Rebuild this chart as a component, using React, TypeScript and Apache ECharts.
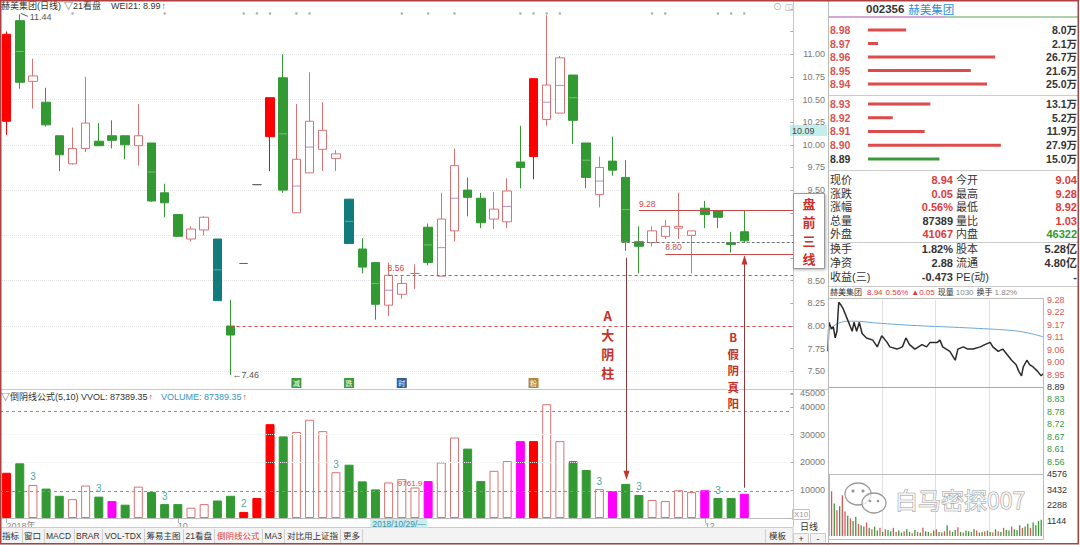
import React, { useEffect, useRef } from 'react';
import * as echarts from 'echarts';

// ---------------- DATA ----------------
const DATES = [
  '2018/09/11', '2018/09/12', '2018/09/13', '2018/09/14', '2018/09/17', '2018/09/18', '2018/09/19', '2018/09/20',
  '2018/09/21', '2018/09/25', '2018/09/26', '2018/09/27', '2018/09/28', '2018/10/08', '2018/10/09', '2018/10/10',
  '2018/10/11', '2018/10/12', '2018/10/15', '2018/10/16', '2018/10/17', '2018/10/18', '2018/10/19', '2018/10/22',
  '2018/10/23', '2018/10/24', '2018/10/25', '2018/10/26', '2018/10/29', '2018/10/30', '2018/10/31', '2018/11/01',
  '2018/11/02', '2018/11/05', '2018/11/06', '2018/11/07', '2018/11/08', '2018/11/09', '2018/11/12', '2018/11/13',
  '2018/11/14', '2018/11/15', '2018/11/16', '2018/11/19', '2018/11/20', '2018/11/21', '2018/11/22', '2018/11/23',
  '2018/11/26', '2018/11/27', '2018/11/28', '2018/11/29', '2018/11/30', '2018/12/03', '2018/12/04', '2018/12/05',
  '2018/12/06',
];
const OPEN = [
  10.26, 11.37, 10.70, 10.47, 10.10, 9.79, 9.96, 10.04, 10.10, 10.10, 9.99, 10.02, 9.47, 9.23, 8.96, 9.06,
  8.96, 8.00, 8.69, 9.56, 10.09, 10.74, 9.25, 9.69, 9.95, 9.85, 9.40, 8.85, 8.70, 8.23, 8.35, 8.58,
  9.09, 8.55, 9.05, 9.50, 9.41, 9.18, 9.15, 9.81, 9.87, 10.28, 10.35, 10.77, 10.02, 9.45, 9.82, 9.64,
  8.93, 8.92, 8.99, 9.08, 9.00, 9.30, 9.27, 8.92, 9.04,
];
const CLOSE = [
  11.22, 10.69, 10.76, 10.22, 9.89, 9.96, 10.24, 9.99, 10.05, 10.00, 10.10, 9.38, 9.36, 8.99, 9.07, 9.20,
  8.28, 7.90, 8.69, 9.56, 10.52, 9.50, 9.84, 10.26, 10.16, 9.90, 8.91, 8.65, 8.24, 8.56, 8.47, 8.58,
  8.70, 9.18, 9.77, 9.42, 9.14, 9.29, 9.49, 9.75, 10.73, 10.66, 10.96, 10.27, 9.64, 9.75, 9.72, 8.93,
  8.88, 9.05, 9.10, 9.10, 9.05, 9.23, 9.20, 8.90, 8.94,
];
const LOW = [
  10.11, 10.62, 10.40, 10.20, 9.71, 9.78, 9.92, 9.99, 9.96, 9.84, 9.77, 9.37, 9.20, 8.99, 8.93, 9.00,
  8.28, 7.46, 8.69, 9.56, 9.71, 9.47, 9.25, 9.69, 9.71, 9.71, 8.91, 8.58, 8.07, 8.11, 8.30, 8.41,
  8.67, 8.55, 8.93, 9.21, 9.08, 9.07, 9.08, 9.52, 9.62, 10.21, 10.35, 10.01, 9.52, 9.31, 9.66, 8.83,
  8.58, 8.88, 8.96, 8.96, 8.58, 9.08, 9.08, 8.81, 8.92,
];
const HIGH = [
  11.25, 11.44, 10.95, 10.63, 10.10, 10.19, 10.75, 10.24, 10.27, 10.10, 10.45, 10.02, 9.57, 9.23, 9.10, 9.21,
  8.96, 8.29, 8.69, 9.56, 10.52, 11.00, 10.45, 10.80, 10.47, 9.94, 9.40, 8.97, 8.70, 8.70, 8.55, 8.68,
  9.13, 9.47, 9.96, 9.64, 9.47, 9.48, 9.63, 10.21, 10.73, 11.43, 10.98, 10.77, 10.02, 9.87, 10.09, 9.83,
  9.10, 9.10, 9.17, 9.47, 9.05, 9.38, 9.27, 9.04, 9.28,
];
// daily volume (x10)
const VOLUME = [
  16300, 19700, 11900, 10600, 8000, 6800, 11700, 7700, 6100, 4800, 11300, 9400, 5000, 5000, 3700, 5000,
  6300, 8000, 2200, 7200, 33800, 29400, 31000, 35400, 31300, 16500, 19200, 13200, 10300, 12800, 14000, 11000,
  13300, 20000, 29000, 25000, 13300, 17000, 20500, 27700, 27700, 41000, 27700, 20500, 17300, 10400, 9700, 12300,
  8300, 6500, 6100, 10000, 9400, 10000, 7200, 7200, 8739,
];
const RED_FILLED_IDX = [0, 20, 40];
const TEAL_IDX = [16, 26];
const ONE_PRICE_IDX = [18, 19];
const MAGENTA_VOL_IDX = [8, 32, 39, 46, 53, 56];
const VOL_MARK_IDX = [2, 7, 12, 18, 25, 45, 48, 54];
const VOL_MARK_TEXT = ['3', '3', '3', '2', '3', '3', '3', '3'];
const SIGNAL_IDX = [5, 12, 18, 19, 20, 22, 23, 30, 32, 34, 39, 40, 41, 42, 49, 50, 54, 55, 56];
const SIGNAL_LEVEL = 11.45;
const PRICE_GRID = [7.5, 8.0, 8.5, 9.0, 9.5, 10.0, 10.5, 11.0];
const COVERED_PRICE_LABELS = [8.75, 9.0, 9.25]; // hidden behind the 盘前三线 box
const VOL_ALERT_HIGH = 38500;
const VOL_ALERT_LOW = 9762;
const X_LABELS: Record<string, string> = { '2018/09/11': '2018年', '2018/10/08': '10', '2018/12/03': '12' };
const CURSOR_IDX = 28;
const ICONS: [number, string, string][] = [[22, '#3a9a3a', '减'], [26, '#3a9a3a', '跌'], [30, '#2f5f9f', '时'], [40, '#b08a3a', '粉']];

const SELL_PRICES = ['8.98', '8.97', '8.96', '8.95', '8.94'];
const SELL_VOLS = [8.0, 2.1, 26.7, 21.6, 25.0];
const BUY_PRICES = ['8.93', '8.92', '8.91', '8.90', '8.89'];
const BUY_VOLS = [13.1, 5.2, 11.9, 27.9, 15.0];
const PREV_CLOSE = 8.89;

const STAT_ROWS: [string, string, string, string, string, string][] = [
  ['现价', '8.94', 'r', '今开', '9.04', 'r'],
  ['涨跌', '0.05', 'r', '最高', '9.28', 'r'],
  ['涨幅', '0.56%', 'r', '最低', '8.92', 'r'],
  ['总量', '87389', 'd', '量比', '1.03', 'r'],
  ['外盘', '41067', 'r', '内盘', '46322', 'g'],
  ['换手', '1.82%', 'd', '股本', '5.28亿', 'd'],
  ['净资', '2.88', 'd', '流通', '4.80亿', 'd'],
  ['收益(三)', '-0.473', 'd', 'PE(动)', '-', 'd'],
];

const INTRA_MIN = [0, 1, 4, 6, 8, 10, 12, 14, 17, 21, 23, 27, 29, 32, 35, 38, 43, 50, 55, 60, 66, 69, 77, 83, 87, 91, 97, 105, 110, 114,
  122, 125, 128, 136, 142, 145, 151, 156, 162, 170, 175, 181, 184, 190, 195, 201, 205, 210, 213, 216, 218, 222, 225, 229, 234, 238, 240];
const INTRA_PRICE = [9.05, 9.18, 9.15, 9.16, 9.11, 9.14, 9.27, 9.26, 9.24, 9.20, 9.18, 9.14, 9.18, 9.14, 9.18, 9.13, 9.11, 9.10, 9.07, 9.12,
  9.09, 9.07, 9.06, 9.07, 9.11, 9.08, 9.06, 9.08, 9.07, 9.09, 9.09, 9.10, 9.07, 9.05, 9.01, 9.06, 9.07, 9.06, 9.06, 9.07,
  9.08, 9.09, 9.07, 9.05, 9.06, 9.03, 9.01, 8.99, 8.96, 8.94, 8.98, 9.01, 8.99, 8.98, 8.96, 8.94, 8.95];
const AVG_MIN = [0, 5, 15, 25, 60, 100, 140, 180, 200, 220, 240];
const AVG_PRICE = [9.14, 9.16, 9.18, 9.185, 9.175, 9.165, 9.158, 9.15, 9.145, 9.135, 9.115];
const INTRA_VOL = [4576, 3300, 2400, 1900, 2200, 3000, 1800, 1500, 1300, 1100, 1400, 900, 800, 700, 1000, 600, 500, 700, 400, 600,
  300, 500, 450, 350, 600, 300, 400, 250, 350, 500, 300, 200, 450, 300, 250, 600, 350, 300, 200, 400,
  500, 300, 250, 350, 800, 400, 300, 450, 650, 300, 250, 400, 350, 300, 500, 400, 250, 300, 350, 400,
  300, 250, 500, 350, 300, 600, 450, 400, 700, 500, 450, 800, 600, 700, 900, 600, 1000, 800, 1100, 1200];
const INTRA_DIR = 'rrgrgrrgrggrggrgrggrgrggrrggrggrgrgrggrgrggrgrggrgrggrgrggrggrgrgrggrgggrggrggg'.split('');

// ---------------- STYLE ----------------
const FONT = "'Liberation Sans','Noto Sans CJK SC','DejaVu Sans',sans-serif";
const CJK = "'Noto Sans CJK SC','DejaVu Sans',sans-serif";
const RED = '#ff0000';
const GREEN = '#339933';
const HOLLOW = '#d97373';
const TEAL = '#127c7c';
const MAGENTA = '#ff00ff';
const TXT_RED = '#e03a3a';
const TXT_GREEN = '#2f9a2f';
const ANN_RED = '#c8302a';

const fontStr = (o: any) => `${o.weight ?? 'normal'} ${o.size ?? 9}px ${o.family ?? FONT}`;
const T = (x: number, y: number, text: string, o: any = {}) => ({
  type: 'text', x, y, z: o.z ?? 60, silent: true,
  style: {
    text, fill: o.color ?? '#333', font: fontStr(o),
    align: o.align ?? 'left', verticalAlign: o.v ?? 'middle',
    textAlign: o.align ?? 'left', textVerticalAlign: o.v ?? 'middle',
    stroke: o.stroke, lineWidth: o.lineWidth ?? 0,
    lineHeight: o.lineHeight,
  },
});
let measureCtx: CanvasRenderingContext2D | null = null;
const measure = (text: string, o: any) => {
  if (!measureCtx) measureCtx = document.createElement('canvas').getContext('2d');
  if (!measureCtx) return text.length * (o.size ?? 9) * 0.6;
  measureCtx.font = fontStr(o);
  return measureCtx.measureText(text).width;
};
// sequential texts: parts = [text, color, gapAfter]
const SEQ = (x: number, y: number, parts: [string, string, number][], o: any = {}) => {
  const out: any[] = [];
  let cx = x;
  parts.forEach(([t, c, gap]) => {
    out.push(T(cx, y, t, { ...o, color: c }));
    cx += measure(t, o) + gap;
  });
  return out;
};
const L = (x1: number, y1: number, x2: number, y2: number, color: string, w = 1, dash?: number[], z = 55) => ({
  type: 'line', z, silent: true, shape: { x1, y1, x2, y2 }, style: { stroke: color, lineWidth: w, lineDash: dash },
});
const R = (x: number, y: number, w: number, h: number, fill: string, stroke?: string, z = 50, extra: any = {}) => ({
  type: 'rect', z, silent: true, shape: { x, y, width: w, height: h },
  style: { fill, stroke, lineWidth: stroke ? 1 : 0, ...extra },
});

function buildOption() {
  const N_SLOTS = 60;
  const cats = [...DATES, ...Array.from({ length: N_SLOTS - DATES.length }, (_, k) => ' '.repeat(k + 1))];

  const candleData = DATES.map((_, i) => {
    const o = OPEN[i], c = CLOSE[i];
    let fill: string, border: string;
    if (RED_FILLED_IDX.includes(i)) { fill = RED; border = RED; }
    else if (TEAL_IDX.includes(i)) { fill = TEAL; border = TEAL; }
    else if (ONE_PRICE_IDX.includes(i)) { fill = '#666'; border = '#666'; }
    else if (c >= o) { fill = '#ffffff'; border = HOLLOW; }
    else { fill = GREEN; border = GREEN; }
    return {
      value: [o, c, LOW[i], HIGH[i]],
      itemStyle: { color: fill, color0: fill, borderColor: border, borderColor0: border, borderColorDoji: border },
    };
  });

  const midData = DATES.map((_, i) => {
    const o = OPEN[i], c = CLOSE[i];
    if (Math.abs(o - c) < 0.28 || RED_FILLED_IDX.includes(i)) return null;
    return { value: [i, (o + c) / 2], itemStyle: { color: c >= o ? '#a070b8' : 'rgba(255,255,255,0.45)' } };
  }).filter(Boolean);

  const volData = VOLUME.map((v, i) => {
    let fill: string, border: string;
    if (MAGENTA_VOL_IDX.includes(i)) { fill = MAGENTA; border = MAGENTA; }
    else if (RED_FILLED_IDX.includes(i) || ONE_PRICE_IDX.includes(i)) { fill = RED; border = RED; }
    else if (TEAL_IDX.includes(i)) { fill = GREEN; border = GREEN; }
    else if (CLOSE[i] >= OPEN[i]) { fill = '#ffffff'; border = HOLLOW; }
    else { fill = GREEN; border = GREEN; }
    const mk = VOL_MARK_IDX.indexOf(i);
    const item: any = { value: v, itemStyle: { color: fill, borderColor: border, borderWidth: 1 } };
    if (mk >= 0) item.label = { show: true, position: 'top', distance: 3, formatter: VOL_MARK_TEXT[mk], color: '#4fa9a9', fontSize: 10, fontFamily: FONT };
    return item;
  });

  const xLabelInterval = (_i: number, v: string) => X_LABELS[v] !== undefined;
  const catAxisLabelColor = (v: string) => (v === PREV_CLOSE.toFixed(2) ? '#333' : '#d9534f');
  const intraStep = 0.0557143; // (9.28 - 8.50) / 14, rounded up so the max tick is not duplicated

  const orderY = (grid: number, data: string[], pos: string, isPrice: boolean) => ({
    type: 'category', gridIndex: grid, inverse: true, data, position: pos,
    axisLine: { show: false }, axisTick: { show: false }, splitLine: { show: false },
    axisLabel: isPrice
      ? { interval: 0, align: 'left', margin: 38, color: catAxisLabelColor, fontWeight: 'bold', fontSize: 10.5, fontFamily: FONT }
      : { interval: 0, align: 'right', margin: 9, color: '#333', fontWeight: 'bold', fontSize: 10.5, fontFamily: FONT },
  });

  const priceLabel = (v: number) => {
    if (v < 7.49 || v > 11.01) return '';
    if (COVERED_PRICE_LABELS.some((c) => Math.abs(c - v) < 0.001)) return '';
    return v.toFixed(2);
  };

  return {
    animation: false,
    backgroundColor: '#ffffff',
    grid: [
      { left: -1.6, top: 8.9, width: 792, height: 385.05 },
      { left: -1.6, top: 393.1, width: 792, height: 124.9 },
      { left: 868, top: 23.25, width: 200, height: 67.5 },
      { left: 868, top: 97.1, width: 200, height: 68.75 },
      { left: 828, top: 300, width: 215, height: 174 },
      { left: 828, top: 474, width: 215, height: 62 },
    ],
    xAxis: [
      { type: 'category', gridIndex: 0, data: cats, axisLine: { show: false }, axisTick: { show: false }, axisLabel: { show: false } },
      {
        type: 'category', gridIndex: 1, data: cats,
        axisLine: { show: true, lineStyle: { color: '#bbbbbb' } },
        axisTick: { show: true, alignWithLabel: true, interval: xLabelInterval, length: 5, lineStyle: { color: '#aaaaaa' } },
        axisLabel: { show: true, interval: xLabelInterval, formatter: (v: string) => X_LABELS[v] ?? '', align: 'left', color: '#888', fontSize: 9, margin: 3, fontFamily: FONT },
      },
      { type: 'value', gridIndex: 2, min: 0, max: 42, show: false },
      { type: 'value', gridIndex: 3, min: 0, max: 42, show: false },
      { type: 'value', gridIndex: 4, min: 0, max: 240, interval: 60, axisLine: { show: false }, axisTick: { show: false }, axisLabel: { show: false }, splitLine: { show: true, lineStyle: { color: '#e0e0e0' } } },
      { type: 'value', gridIndex: 5, min: 0, max: 240, interval: 60, axisLine: { show: false }, axisTick: { show: false }, axisLabel: { show: false }, splitLine: { show: true, lineStyle: { color: '#e0e0e0' } } },
    ],
    yAxis: [
      {
        type: 'value', gridIndex: 0, position: 'right', min: 7.25, max: 11.5, interval: 0.25,
        axisLine: { show: false }, axisTick: { show: true, length: 3, lineStyle: { color: '#aaa' } }, splitLine: { show: false },
        axisLabel: { formatter: priceLabel, align: 'right', margin: 34.6, color: '#777', fontSize: 9, fontFamily: FONT },
      },
      {
        type: 'value', gridIndex: 1, position: 'right', min: 0, max: 45000, interval: 10000,
        axisLine: { show: false }, axisTick: { show: true, length: 3, lineStyle: { color: '#aaa' } }, splitLine: { show: false },
        axisLabel: { formatter: (v: number) => (v >= 10000 ? String(v) : ''), align: 'right', margin: 34.6, color: '#777', fontSize: 9, fontFamily: FONT },
      },
      orderY(2, SELL_PRICES, 'left', true),
      orderY(2, SELL_VOLS.map((v) => v.toFixed(1) + '万'), 'right', false),
      orderY(3, BUY_PRICES, 'left', true),
      orderY(3, BUY_VOLS.map((v) => v.toFixed(1) + '万'), 'right', false),
      {
        type: 'value', gridIndex: 4, position: 'right', min: 8.5, max: 9.28, interval: intraStep,
        axisLine: { show: false }, axisTick: { show: false }, splitLine: { show: false },
        axisLabel: {
          formatter: (v: number) => (v < 8.52 ? '' : v.toFixed(2)), margin: 4, fontSize: 9, fontFamily: FONT,
          color: (v: any) => { const d = parseFloat(v) - PREV_CLOSE; return Math.abs(d) < 0.005 ? '#333' : d > 0 ? '#d65a5a' : '#3a9a3a'; },
        },
      },
      {
        type: 'value', gridIndex: 5, position: 'right', min: 0, max: 4576, interval: 1144,
        axisLine: { show: false }, axisTick: { show: false }, splitLine: { show: false },
        axisLabel: { formatter: (v: number) => (v > 0 ? String(v) : ''), margin: 4, fontSize: 9, color: '#333', fontFamily: FONT },
      },
    ],
    series: [
      {
        type: 'candlestick', xAxisIndex: 0, yAxisIndex: 0, data: candleData, barWidth: 9, z: 3,
        itemStyle: { borderWidth: 1 },
        markLine: { silent: true, symbol: 'none', label: { show: false }, lineStyle: { color: '#e2e2e2', type: 'dotted', width: 1 }, data: PRICE_GRID.map((v) => ({ yAxis: v })), z: 1 },
      },
      { type: 'scatter', xAxisIndex: 0, yAxisIndex: 0, data: midData, symbol: 'rect', symbolSize: [8, 1], z: 4, silent: true },
      { type: 'scatter', xAxisIndex: 0, yAxisIndex: 0, data: SIGNAL_IDX.map((i) => [i, SIGNAL_LEVEL]), symbol: 'circle', symbolSize: 2.5, itemStyle: { color: '#999' }, silent: true },
      {
        type: 'bar', xAxisIndex: 1, yAxisIndex: 1, data: volData, barWidth: 9, z: 3,
        markLine: {
          silent: true, symbol: 'none', label: { show: false },
          data: [
            { yAxis: 30000, lineStyle: { color: '#eeeeee', type: 'dotted', width: 1 } },
            { yAxis: 20000, lineStyle: { color: '#eeeeee', type: 'dotted', width: 1 } },
            { yAxis: VOL_ALERT_HIGH, lineStyle: { color: '#e07070', type: [3, 3], width: 1 } },
            { yAxis: VOL_ALERT_LOW, lineStyle: { color: '#e07070', type: [3, 3], width: 1 } },
          ],
        },
      },
      {
        type: 'bar', xAxisIndex: 2, yAxisIndex: 2, barWidth: 3,
        data: SELL_VOLS.map((v, k) => ({ value: v, itemStyle: { color: SELL_PRICES[k] === PREV_CLOSE.toFixed(2) ? '#3a9a3a' : '#dd4b4b' } })),
      },
      {
        type: 'bar', xAxisIndex: 3, yAxisIndex: 4, barWidth: 3,
        data: BUY_VOLS.map((v, k) => ({ value: v, itemStyle: { color: BUY_PRICES[k] === PREV_CLOSE.toFixed(2) ? '#3a9a3a' : '#dd4b4b' } })),
      },
      {
        type: 'line', xAxisIndex: 4, yAxisIndex: 6, data: INTRA_MIN.map((m, k) => [m, INTRA_PRICE[k]]),
        symbol: 'none', lineStyle: { color: '#2a2a2a', width: 1.5 }, z: 5,
        markLine: { silent: true, symbol: 'none', label: { show: false }, lineStyle: { color: '#aaaaaa', type: 'solid', width: 1 }, data: [{ yAxis: PREV_CLOSE }] },
      },
      {
        type: 'line', xAxisIndex: 4, yAxisIndex: 6, data: AVG_MIN.map((m, k) => [m, AVG_PRICE[k]]),
        symbol: 'none', smooth: true, lineStyle: { color: '#6aa6d6', width: 1 }, z: 4,
      },
      {
        type: 'bar', xAxisIndex: 5, yAxisIndex: 7, barWidth: 1.3,
        data: INTRA_VOL.map((v, k) => ({ value: [k * 3 + 1, v], itemStyle: { color: INTRA_DIR[k] === 'r' ? '#e05555' : '#3a9a3a' } })),
      },
    ],
  };
}

function buildGraphics(chart: any) {
  const px = (i: number, p: number) => chart.convertToPixel({ seriesIndex: 0 }, [i, p]) as number[];
  const vpx = (i: number, v: number) => chart.convertToPixel({ seriesIndex: 3 }, [i, v]) as number[];
  const g: any[] = [];
  const AX = 793;

  // frames
  g.push(L(AX + 0.5, 0, AX + 0.5, 527, '#c8c8c8', 1));
  g.push(L(828.5, 0, 828.5, 545, '#bbbbbb', 1));
  g.push(L(0, 389.5, 828, 389.5, '#c8c8c8', 1));

  // main header
  g.push(...SEQ(1, 5.5, [['赫美集团(日线)', '#333', 3], ['▽21看盘', '#333', 10], ['WEI21: 8.99', '#333', 1], ['↑', TXT_RED, 0]], { size: 9 }));
  g.push(T(773, 7, '⊙ ◫', { size: 9, color: '#b0b0b0' }));

  // volume header
  g.push(...SEQ(1, 396.5, [['▽倒阴线公式(5,10) VVOL: 87389.35', '#333', 1], ['↑', TXT_RED, 8], ['VOLUME: 87389.35', '#3b94c0', 1], ['↑', TXT_RED, 0]], { size: 9 }));

  // cursor price on axis
  g.push(R(790, 125, 37, 11, '#c4eeee'));
  g.push(T(792, 130.5, '10.09', { size: 9, color: '#444' }));

  // cursor date on x axis
  const cx = px(CURSOR_IDX, 8)[0];
  g.push(R(cx - 5, 519, 57, 8.5, '#c8eef2'));
  g.push(T(cx - 3, 523.5, '2018/10/29/—', { size: 8.5, color: '#4a8a9a' }));

  // toolbar
  g.push(R(0, 527.5, 793, 16.5, '#f3f3f3', '#cccccc', 40));
  const TABS = ['指标', '窗口', 'MACD', 'BRAR', 'VOL-TDX', '筹易主图', '21看盘', '倒阴线公式', 'MA3', '对比用上证指', '更多'];
  let tx = 2;
  TABS.forEach((t, k) => {
    g.push(T(tx, 536, t, { size: 8.5, color: k === 7 ? '#e04040' : '#333' }));
    const w = measure(t, { size: 8.5 });
    tx += w + 5;
    g.push(L(Math.round(tx - 2.5) + 0.5, 529, Math.round(tx - 2.5) + 0.5, 543, '#cfcfcf', 1));
  });
  g.push(L(765.5, 529, 765.5, 543, '#cfcfcf', 1));
  g.push(T(769, 536, '模板', { size: 8.5 }));
  // left strip
  g.push(R(792.5, 509.5, 17, 10, '#ffffff', '#c0c0c0'));
  g.push(T(794, 514.5, 'X10', { size: 8, color: '#999' }));
  g.push(T(800, 527, '日线', { size: 9 }));
  g.push(R(793.5, 533.5, 15, 10, '#f3f3f3', '#cccccc'));
  g.push(R(810.5, 533.5, 15, 10, '#f3f3f3', '#cccccc'));
  g.push(T(801, 538.5, '+', { size: 9, align: 'center' }));
  g.push(T(818, 538.5, '-', { size: 9, align: 'center' }));

  // annotation: high / low markers
  const hi = px(1, HIGH[1]);
  g.push(L(hi[0] + 1, hi[1] - 1, hi[0] + 8, hi[1] + 2, '#555', 1));
  g.push(T(hi[0] + 10, hi[1] + 3, '11.44', { size: 9, color: '#555' }));
  const lo = px(17, LOW[17]);
  g.push(T(lo[0] + 2, lo[1], '←7.46', { size: 9, color: '#555' }));

  // dashed support lines
  const p856 = px(29, CLOSE[29]);
  g.push(L(p856[0], Math.round(p856[1]) + 0.5, AX, Math.round(p856[1]) + 0.5, '#d04848', 1, [3, 3]));
  g.push(T(p856[0] - 1, p856[1] - 7, '8.56', { size: 8.5, color: '#d04848' }));
  const p800 = px(17, OPEN[17]);
  g.push(L(p800[0], Math.round(p800[1]) + 0.5, AX, Math.round(p800[1]) + 0.5, '#d04848', 1, [3, 3]));
  const p893 = px(47, CLOSE[47]);
  g.push(L(p893[0] - 4, Math.round(p893[1]) + 0.5, AX, Math.round(p893[1]) + 0.5, '#707070', 1, [3, 2]));

  // pre-market three lines
  const p928 = px(48, HIGH[56]);
  g.push(L(p928[0], Math.round(p928[1]) + 0.5, AX, Math.round(p928[1]) + 0.5, '#c84848', 1));
  g.push(T(p928[0], p928[1] - 6, '9.28', { size: 8.5, color: '#c84848' }));
  const p880 = px(50, 8.80);
  g.push(L(p880[0], Math.round(p880[1]) + 0.5, AX, Math.round(p880[1]) + 0.5, '#c84848', 1));
  g.push(T(p880[0], p880[1] - 7, '8.80', { size: 8.5, color: '#c84848' }));

  // box 盘前三线 (one vertical multi-line text)
  g.push(R(793.5, 193.5, 31, 75, '#ffffff', '#9a9a9a', 70, { shadowBlur: 3, shadowColor: 'rgba(0,0,0,0.3)', shadowOffsetX: 1, shadowOffsetY: 1 }));
  g.push(T(809, 231, '盘\n前\n三\n线', { size: 13, weight: 'bold', color: ANN_RED, family: CJK, align: 'center', lineHeight: 18.5, z: 75 }));

  // A arrow
  const a = px(47, LOW[47]);
  const av = vpx(47, VOLUME[47]);
  const ax = Math.round(a[0]) + 0.5;
  g.push(L(ax, a[1] + 7, ax, av[1] - 6, '#8a3a3a', 1));
  g.push({ type: 'polygon', z: 60, silent: true, shape: { points: [[ax - 3, av[1] - 13], [ax + 3, av[1] - 13], [ax, av[1] - 4]] }, style: { fill: ANN_RED } });
  g.push(T(a[0] - 18, 343.5, 'A\n大\n阴\n柱', { size: 13, weight: 'bold', color: ANN_RED, family: CJK, align: 'center', lineHeight: 19, stroke: '#fff', lineWidth: 2 }));

  // B arrow
  const bv = vpx(56, VOLUME[56]);
  const b880 = px(56, 8.80);
  const bx = Math.round(b880[0]) + 0.5;
  g.push(L(bx, bv[1] - 6, bx, b880[1] + 3, '#8a3a3a', 1));
  g.push({ type: 'polygon', z: 60, silent: true, shape: { points: [[bx - 3, b880[1] + 11], [bx + 3, b880[1] + 11], [bx, b880[1] + 2]] }, style: { fill: ANN_RED } });
  g.push(T(b880[0] - 11, 370, 'B\n假\n阴\n真\n阳', { size: 11.5, weight: 'bold', color: ANN_RED, family: CJK, align: 'center', lineHeight: 16.5, stroke: '#fff', lineWidth: 1.5 }));

  // event icons
  ICONS.forEach(([i, col, ch]) => {
    const p = px(i, 8)[0];
    g.push(R(p - 5, 378, 10, 10, col, undefined, 60, { r: 1 }));
    g.push(T(p, 383, ch, { size: 7, color: '#fff', align: 'center', family: CJK, z: 61 }));
  });

  // volume alert label
  const vl = vpx(30, VOL_ALERT_LOW);
  g.push(T(vl[0] - 4, vl[1] - 7, '9761.9', { size: 8, color: '#d04848' }));

  // ---------- right panel ----------
  g.push(T(866, 8.5, '002356', { size: 11.5, weight: 'bold', color: '#333' }));
  const codeW = measure('002356', { size: 11.5, weight: 'bold' });
  g.push(T(866 + codeW + 4, 8.5, '赫美集团', { size: 11.5, color: '#2f8fd8', family: CJK }));
  g.push(L(829, 17, 945, 17, '#c98ac9', 1.5));
  g.push(L(945, 17, 1078, 17, '#8fc08f', 1.5));
  g.push(L(829, 95.5, 1078, 95.5, '#cccccc', 1));
  g.push(L(829, 170.5, 1078, 170.5, '#cccccc', 1));
  g.push(L(829, 242.5, 1078, 242.5, '#cccccc', 1));
  g.push(L(829, 286.5, 1078, 286.5, '#cccccc', 1));

  const colorOf = (c: string) => (c === 'r' ? TXT_RED : c === 'g' ? TXT_GREEN : '#333');
  STAT_ROWS.forEach((row, k) => {
    const y = k < 5 ? 180 + k * 13.5 : 249 + (k - 5) * 13.75;
    g.push(T(830, y, row[0], { size: 11, color: '#333' }));
    g.push(T(953, y, row[1], { size: 11, weight: 'bold', color: colorOf(row[2]), align: 'right' }));
    g.push(T(956, y, row[3], { size: 11, color: '#333' }));
    g.push(T(1077, y, row[4], { size: 11, weight: 'bold', color: colorOf(row[5]), align: 'right' }));
  });

  // intraday header
  g.push(...SEQ(830, 292.5, [['赫美集团', '#333', 5], ['8.94', TXT_RED, 3], ['0.56%', TXT_RED, 3], ['▲0.05', TXT_RED, 3],
    ['现量', '#333', 2], ['1030', '#888', 3], ['换手', '#333', 2], ['1.82%', '#888', 0]], { size: 8 }));
  g.push(R(828.5, 298.5, 215, 241, 'rgba(0,0,0,0)', '#bbbbbb', 45));
  g.push(L(828.5, 474.5, 1043.5, 474.5, '#bbbbbb', 1));

  // watermark
  g.push({ type: 'ellipse', z: 80, silent: true, shape: { cx: 858, cy: 494, rx: 13, ry: 11 }, style: { fill: 'rgba(255,255,255,0.75)', stroke: '#9a9a9a', lineWidth: 1.3 } });
  g.push({ type: 'ellipse', z: 81, silent: true, shape: { cx: 874, cy: 503, rx: 12, ry: 10 }, style: { fill: 'rgba(255,255,255,0.75)', stroke: '#9a9a9a', lineWidth: 1.3 } });
  [[853, 491, 1.6], [863, 491, 1.6], [870, 501, 1.3], [878, 501, 1.3]].forEach(([x, y, r]) =>
    g.push({ type: 'circle', z: 82, silent: true, shape: { cx: x, cy: y, r }, style: { fill: '#9a9a9a' } }));
  g.push(T(895, 499, '白马密探007', { size: 23, family: CJK, color: 'rgba(255,255,255,0.8)', stroke: '#999', lineWidth: 1, z: 83 }));

  // outer frame
  g.push({ type: 'rect', z: 90, silent: true, shape: { x: 0.75, y: 0.75, width: 1077.5, height: 543 }, style: { fill: 'none', stroke: '#b04040', lineWidth: 1.5 } });

  return g;
}

export default function App() {
  const ref = useRef<HTMLDivElement>(null);
  useEffect(() => {
    document.body.style.margin = '0';
    const chart = echarts.init(ref.current!, null, { renderer: 'svg', width: 1080, height: 545 });
    chart.setOption(buildOption() as any);
    chart.setOption({ graphic: buildGraphics(chart) } as any);
    return () => chart.dispose();
  }, []);
  return <div ref={ref} style={{ position: 'absolute', left: 0, top: 0, width: 1080, height: 545, background: '#fff' }} />;
}
